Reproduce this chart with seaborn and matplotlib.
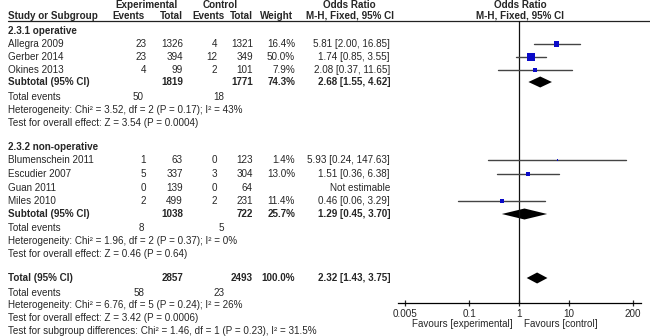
import numpy as np
import matplotlib
matplotlib.use("Agg")
import matplotlib.pyplot as plt
import seaborn as sns

# Study level data
studies = ["Allegra 2009", "Gerber 2014", "Okines 2013",
           "Blumenschein 2011", "Escudier 2007", "Guan 2011", "Miles 2010"]
exp_events = [23, 23, 4, 1, 5, 0, 2]
exp_total = [1326, 394, 99, 63, 337, 139, 499]
ctrl_events = [4, 12, 2, 0, 3, 0, 2]
ctrl_total = [1321, 349, 101, 123, 304, 64, 231]
weights = [16.4, 50.0, 7.9, 1.4, 13.0, np.nan, 11.4]
odds = [5.81, 1.74, 2.08, 5.93, 1.51, np.nan, 0.46]
ci_low = [2.00, 0.85, 0.37, 0.24, 0.36, np.nan, 0.06]
ci_high = [16.85, 3.55, 11.65, 147.63, 6.38, np.nan, 3.29]

# Pooled results: operative, non-operative, total
pooled_names = ["Subtotal (95% CI)", "Subtotal (95% CI)", "Total (95% CI)"]
pooled_exp_total = [1819, 1038, 2857]
pooled_ctrl_total = [1771, 722, 2493]
pooled_exp_events = [50, 8, 58]
pooled_ctrl_events = [18, 5, 23]
pooled_weight = [74.3, 25.7, 100.0]
pooled_or = [2.68, 1.29, 2.32]
pooled_low = [1.55, 0.45, 1.43]
pooled_high = [4.62, 3.70, 3.75]
heterogeneity = ["Heterogeneity: Chi² = 3.52, df = 2 (P = 0.17); I² = 43%",
                 "Heterogeneity: Chi² = 1.96, df = 2 (P = 0.37); I² = 0%",
                 "Heterogeneity: Chi² = 6.76, df = 5 (P = 0.24); I² = 26%"]
overall_effect = ["Test for overall effect: Z = 3.54 (P = 0.0004)",
                  "Test for overall effect: Z = 0.46 (P = 0.64)",
                  "Test for overall effect: Z = 3.42 (P = 0.0006)"]
subgroup_test = "Test for subgroup differences: Chi² = 1.46, df = 1 (P = 0.23), I² = 31.5%"
tick_values = [0.005, 0.1, 1, 10, 200]
tick_labels = ["0.005", "0.1", "1", "10", "200"]

# layout (pixel rows from top)
study_rows = [44, 57, 70, 160, 174, 188, 201]
group_rows = [31, 147]
group_titles = ["2.3.1 operative", "2.3.2 non-operative"]
pooled_rows = [82, 214, 278]
events_rows = [97, 228, 293]
het_rows = [110, 241, 305]
eff_rows = [123, 254, 318]
col_x = [146, 183, 217, 253, 295, 390]
head_x = [145, 183, 225, 253, 293]
ev_x = [144, 224]

sns.set_theme(style="white")
plt.rcParams["font.family"] = ["Liberation Sans", "DejaVu Sans"]
FS = 7.1

fig = plt.figure(figsize=(6.5, 3.36), dpi=100)
tx = fig.add_axes([0, 0, 1, 1])
tx.set_xlim(0, 650)
tx.set_ylim(336, 0)
tx.axis("off")

# forest axes, bottom spine is the log axis
x_left, x_right, y_axis = 398, 641, 303
ax = fig.add_axes([x_left / 650, (336 - y_axis) / 336,
                   (x_right - x_left) / 650, y_axis / 336])
ax.patch.set_alpha(0)
dec = 49.5
ax.set_xscale("log")
ax.set_xlim(10 ** (np.log10(0.005) - 7 / dec), 10 ** (np.log10(200) + 8 / dec))
ax.set_ylim(y_axis, 0)
for s in ["top", "left", "right"]:
    ax.spines[s].set_visible(False)
ax.spines["bottom"].set_color("black")
ax.spines["bottom"].set_linewidth(0.9)
ax.set_xticks(tick_values)
ax.set_xticklabels(tick_labels, fontsize=FS)
ax.minorticks_off()
ax.tick_params(axis="x", direction="inout", length=5, width=0.9, pad=2, bottom=True)
ax.set_yticks([])
ax.plot([1, 1], [21, y_axis], color="#111111", lw=0.9)

# study CI lines and squares
ok = [i for i in range(len(studies)) if not np.isnan(odds[i])]
for i in ok:
    ax.plot([ci_low[i], ci_high[i]], [study_rows[i]] * 2, color="#444444", lw=1.0)
sizes = [40 * weights[i] / 50 for i in ok]
sns.scatterplot(x=[odds[i] for i in ok], y=[study_rows[i] for i in ok], s=sizes,
                marker="s", color="#0a0ac8", linewidth=0, ax=ax, legend=False, zorder=3)

# pooled diamonds
for k in range(3):
    y = pooled_rows[k]
    ax.fill([pooled_low[k], pooled_or[k], pooled_high[k], pooled_or[k]],
            [y, y - 5.5, y, y + 5.5], color="black", lw=0)

# header
tx.text(147, 5, "Experimental", fontsize=FS, weight="bold", ha="center", va="center")
tx.text(220, 5, "Control", fontsize=FS, weight="bold", ha="center", va="center")
tx.text(349, 5, "Odds Ratio", fontsize=FS, weight="bold", ha="center", va="center")
tx.text(520, 5, "Odds Ratio", fontsize=FS, weight="bold", ha="center", va="center")
tx.text(8, 16, "Study or Subgroup", fontsize=FS, weight="bold", ha="left", va="center")
for x, lab in zip(head_x, ["Events", "Total", "Events", "Total", "Weight"]):
    tx.text(x, 16, lab, fontsize=FS, weight="bold", ha="right", va="center")
tx.text(350, 16, "M-H, Fixed, 95% CI", fontsize=FS, weight="bold", ha="center", va="center")
tx.text(520, 16, "M-H, Fixed, 95% CI", fontsize=FS, weight="bold", ha="center", va="center")
tx.plot([8, 650], [21, 21], color="#222222", lw=0.9)

for y, t in zip(group_rows, group_titles):
    tx.text(8, y, t, fontsize=FS, weight="bold", va="center")

for i, name in enumerate(studies):
    y = study_rows[i]
    tx.text(8, y, name, fontsize=FS, va="center")
    vals = [exp_events[i], exp_total[i], ctrl_events[i], ctrl_total[i]]
    for x, v in zip(col_x[:4], vals):
        tx.text(x, y, str(v), fontsize=FS, ha="right", va="center")
    if np.isnan(odds[i]):
        tx.text(col_x[5], y, "Not estimable", fontsize=FS, ha="right", va="center")
    else:
        tx.text(col_x[4], y, f"{weights[i]:.1f}%", fontsize=FS, ha="right", va="center")
        tx.text(col_x[5], y, f"{odds[i]:.2f} [{ci_low[i]:.2f}, {ci_high[i]:.2f}]",
                fontsize=FS, ha="right", va="center")

for k in range(3):
    y = pooled_rows[k]
    tx.text(8, y, pooled_names[k], fontsize=FS, weight="bold", va="center")
    tx.text(col_x[1], y, str(pooled_exp_total[k]), fontsize=FS, weight="bold", ha="right", va="center")
    tx.text(col_x[3], y, str(pooled_ctrl_total[k]), fontsize=FS, weight="bold", ha="right", va="center")
    tx.text(col_x[4], y, f"{pooled_weight[k]:.1f}%", fontsize=FS, weight="bold", ha="right", va="center")
    tx.text(col_x[5], y, f"{pooled_or[k]:.2f} [{pooled_low[k]:.2f}, {pooled_high[k]:.2f}]",
            fontsize=FS, weight="bold", ha="right", va="center")
    tx.text(8, events_rows[k], "Total events", fontsize=FS, va="center")
    tx.text(ev_x[0], events_rows[k], str(pooled_exp_events[k]), fontsize=FS, ha="right", va="center")
    tx.text(ev_x[1], events_rows[k], str(pooled_ctrl_events[k]), fontsize=FS, ha="right", va="center")
    tx.text(8, het_rows[k], heterogeneity[k], fontsize=FS, va="center")
    tx.text(8, eff_rows[k], overall_effect[k], fontsize=FS, va="center")

tx.text(8, 331, subgroup_test, fontsize=FS, va="center")
tx.text(513, 324, "Favours [experimental]", fontsize=FS, ha="right", va="center")
tx.text(524, 324, "Favours [control]", fontsize=FS, ha="left", va="center")

fig.savefig("out.png", dpi=100)
